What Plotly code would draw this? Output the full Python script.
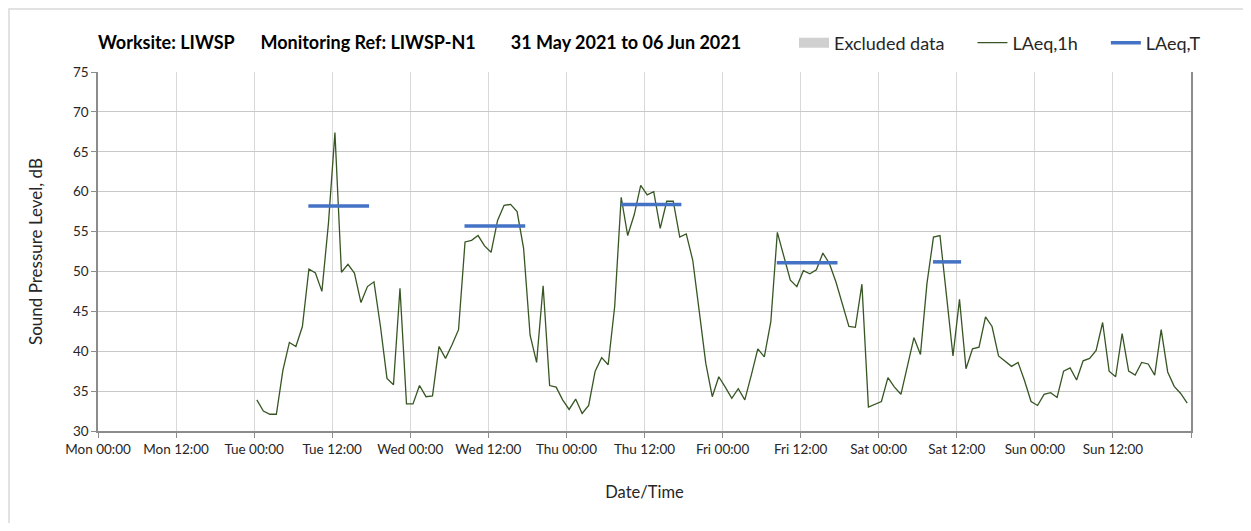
'''
Noise monitoring chart: hourly LAeq,1h and period LAeq,T for LIWSP-N1
'''

import pandas as pd
import plotly.graph_objects as go

# LAeq,1h per hour (dB), hours 00..23 of each day
tue = [33.9, 32.5, 32.1, 32.1, 37.6, 41.1, 40.6, 43.1, 50.3, 49.8, 47.5, 56.0,
       67.4, 49.9, 50.9, 49.8, 46.1, 48.1, 48.7, 43.1, 36.6, 35.8, 47.9, 33.4]
wed = [33.4, 35.7, 34.3, 34.4, 40.6, 39.1, 40.8, 42.7, 53.7, 53.9, 54.5, 53.2,
       52.4, 56.4, 58.3, 58.4, 57.5, 52.9, 42.0, 38.6, 48.2, 35.7, 35.5, 33.9]
thu = [32.7, 34.0, 32.2, 33.2, 37.5, 39.2, 38.3, 45.6, 59.3, 54.5, 57.1, 60.8,
       59.6, 60.0, 55.4, 58.8, 58.8, 54.3, 54.7, 51.4, 45.0, 38.5, 34.3, 36.8]
fri = [35.5, 34.1, 35.3, 33.9, 37.0, 40.3, 39.3, 43.7, 54.9, 52.0, 48.9, 48.1,
       50.1, 49.7, 50.2, 52.3, 51.0, 48.7, 46.0, 43.1, 43.0, 48.4, 33.0, 33.3]
sat = [33.7, 36.7, 35.5, 34.6, 38.2, 41.7, 39.6, 48.5, 54.3, 54.5, 47.0, 39.4,
       46.5, 37.8, 40.3, 40.5, 44.3, 43.1, 39.4, 38.8, 38.1, 38.6, 36.3, 33.7]
sun = [33.2, 34.6, 34.8, 34.2, 37.5, 37.9, 36.4, 38.8, 39.1, 40.1, 43.6, 37.5,
       36.8, 42.2, 37.5, 37.0, 38.6, 38.4, 37.0, 42.7, 37.4, 35.6, 34.7, 33.5]

laeq_1h = tue + wed + thu + fri + sat + sun
hour_times = pd.date_range("2021-06-01 00:25", periods=len(laeq_1h), freq="h")

# LAeq,T for each working period
period_start = ["2021-06-01 08:20", "2021-06-02 08:20", "2021-06-03 08:20",
                "2021-06-04 08:20", "2021-06-05 08:20"]
period_end = ["2021-06-01 17:40", "2021-06-02 17:40", "2021-06-03 17:40",
              "2021-06-04 17:40", "2021-06-05 12:40"]
period_level = [58.2, 55.7, 58.4, 51.1, 51.2]

tick_times = pd.date_range("2021-05-31", "2021-06-07", freq="12h")
tick_labels = ["Mon 00:00", "Mon 12:00", "Tue 00:00", "Tue 12:00", "Wed 00:00",
               "Wed 12:00", "Thu 00:00", "Thu 12:00", "Fri 00:00", "Fri 12:00",
               "Sat 00:00", "Sat 12:00", "Sun 00:00", "Sun 12:00", ""]

font = "Lato, Open Sans, sans-serif"
W, H = 1235, 515  # page keeps an 8px body margin
pad = "\u00a0" * 5

px, py = [], []
for s, e, v in zip(period_start, period_end, period_level):
    px += [s, e, None]
    py += [v, v, None]

fig = go.Figure()

# nothing excluded in this week, legend entry only
fig.add_trace(go.Scatter(
    x=[None], y=[None], mode="lines", name="Excluded data" + pad,
    line=dict(color="#d0d0d0", width=12),
))
fig.add_trace(go.Scatter(
    x=hour_times, y=laeq_1h, mode="lines", name="LAeq,1h" + pad,
    line=dict(color="#375623", width=1.3),
))
fig.add_trace(go.Scatter(
    x=px, y=py, mode="lines", name="LAeq,T",
    line=dict(color="#4472c4", width=3.5),
))

title = ("Worksite: LIWSP" + "\u00a0" * 6 + "Monitoring Ref: LIWSP-N1"
         + "\u00a0" * 8 + "31 May 2021 to 06 Jun 2021")
fig.update_layout(
    width=W, height=H,
    margin=dict(l=90, r=52, t=64, b=92),
    paper_bgcolor="white", plot_bgcolor="white",
    font=dict(family=font, color="#404040", size=13),
    title=dict(
        text=title,
        font=dict(family=font, size=18, color="black", weight="bold"),
        x=0, xref="paper", xanchor="left",
        y=1 - 35 / H, yref="container", yanchor="middle",
    ),
    legend=dict(
        orientation="h", x=(1198 - 90) / 1093, xref="paper", xanchor="right",
        y=1 + (64 - 35) / 359, yref="paper", yanchor="middle",
        font=dict(family=font, size=18, color="#262626"),
        itemwidth=30, traceorder="normal",
    ),
    showlegend=True,
    xaxis=dict(
        type="date",
        range=[tick_times[0], tick_times[-1]],
        tickvals=tick_times, ticktext=tick_labels,
        showgrid=True, gridcolor="#d9d9d9", gridwidth=1,
        showline=True, linecolor="#8c8c8c", linewidth=1.5,
        ticks="outside", ticklen=5, tickcolor="#8c8c8c",
        tickfont=dict(size=13.5, color="#262626"),
        title=dict(text="Date/Time", font=dict(size=16.5, color="#262626"), standoff=30),
        zeroline=False,
    ),
    yaxis=dict(
        range=[30, 75], dtick=5,
        showgrid=True, gridcolor="#c8c8c8", gridwidth=1,
        showline=True, linecolor="#8c8c8c", linewidth=1.5, mirror=True,
        ticks="outside", ticklen=5, tickcolor="#8c8c8c",
        tickfont=dict(size=13.5, color="#262626"),
        title=dict(text="Sound Pressure Level, dB", font=dict(size=17, color="#262626"), standoff=26),
        zeroline=False,
    ),
    shapes=[dict(
        type="rect", xref="paper", yref="paper",
        x0=-89 / 1093, x1=1.2, y0=-0.5, y1=1 + 63 / 359,
        line=dict(color="#d9d9d9", width=1.5), layer="below",
    )],
)

fig.write_html("out.html")
